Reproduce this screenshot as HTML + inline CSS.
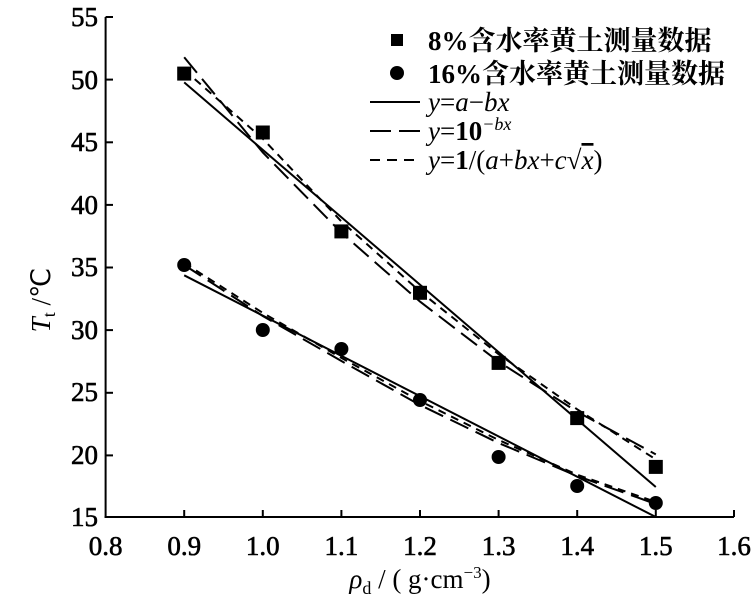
<!DOCTYPE html>
<html><head><meta charset="utf-8"><style>body{margin:0;background:#fff}svg{display:block}</style></head><body>
<svg width="753" height="600" xmlns="http://www.w3.org/2000/svg" font-family="Liberation Serif, serif">
<rect width="753" height="600" fill="#fff"/>
<g stroke="#000" stroke-width="2" fill="none">
<line x1="105.6" y1="17" x2="105.6" y2="518"/>
<line x1="104.6" y1="517" x2="734" y2="517"/>
<line x1="105.6" y1="17" x2="113" y2="17"/><line x1="105.6" y1="79.6" x2="113" y2="79.6"/><line x1="105.6" y1="142.3" x2="113" y2="142.3"/><line x1="105.6" y1="204.9" x2="113" y2="204.9"/><line x1="105.6" y1="267.5" x2="113" y2="267.5"/><line x1="105.6" y1="330.1" x2="113" y2="330.1"/><line x1="105.6" y1="392.8" x2="113" y2="392.8"/><line x1="105.6" y1="455.4" x2="113" y2="455.4"/>
<line x1="184.2" y1="517" x2="184.2" y2="510"/><line x1="262.8" y1="517" x2="262.8" y2="510"/><line x1="341.4" y1="517" x2="341.4" y2="510"/><line x1="420" y1="517" x2="420" y2="510"/><line x1="498.6" y1="517" x2="498.6" y2="510"/><line x1="577.2" y1="517" x2="577.2" y2="510"/><line x1="655.8" y1="517" x2="655.8" y2="510"/><line x1="734" y1="517" x2="734" y2="510"/>
</g>
<g font-size="27" text-anchor="end" stroke="#000" stroke-width="0.6">
<text x="98" y="26">55</text><text x="98" y="89">50</text><text x="98" y="151">45</text><text x="98" y="214">40</text><text x="98" y="276">35</text><text x="98" y="339">30</text><text x="98" y="401">25</text><text x="98" y="464">20</text><text x="98" y="526">15</text>
</g>
<g font-size="27" text-anchor="middle" stroke="#000" stroke-width="0.6">
<text x="105.6" y="555">0.8</text><text x="184.2" y="555">0.9</text><text x="262.8" y="555">1.0</text><text x="341.4" y="555">1.1</text><text x="420" y="555">1.2</text><text x="498.6" y="555">1.3</text><text x="577.2" y="555">1.4</text><text x="655.8" y="555">1.5</text><text x="734" y="555">1.6</text>
</g>
<text x="420" y="588" font-size="27" text-anchor="middle"><tspan font-style="italic">ρ</tspan><tspan font-size="18" dy="6">d</tspan><tspan dy="-6"> / ( g·cm</tspan><tspan font-size="17" dy="-10">−3</tspan><tspan dy="10">)</tspan></text>
<text transform="translate(50,300) rotate(-90)" font-size="27" text-anchor="middle"><tspan font-style="italic">T</tspan><tspan font-size="18" dy="5">t</tspan><tspan dy="-5"> /℃</tspan></text>
<g stroke="#000" stroke-width="2" fill="none">
<line x1="184.2" y1="82.4" x2="655.8" y2="487"/>
<polyline stroke-dasharray="20,8" points="184.2,57.3 262.8,152.5 341.4,232.7 420,301.6 498.6,361.7 577.2,411.8 655.8,454.4"/>
<polyline stroke-dasharray="8,6" points="184.2,69.9 262.8,138.8 341.4,221.4 420,291.5 498.6,354.2 577.2,409.3 655.8,459.4"/>
<line x1="184.2" y1="275.3" x2="655.8" y2="517"/>
<polyline stroke-dasharray="20,8" points="184.2,265 262.8,316 341.4,361 420,405 498.6,443 577.2,476 655.8,504"/>
<polyline stroke-dasharray="8,6" points="184.2,263 262.8,312.9 341.4,357.9 420,401 498.6,440 577.2,474.7 655.8,502"/>
</g>
<g fill="#000">
<rect x="177.2" y="66.6" width="14" height="14"/><rect x="255.8" y="125.5" width="14" height="14"/><rect x="334.4" y="224.4" width="14" height="14"/><rect x="413" y="285.8" width="14" height="14"/><rect x="491.6" y="355.9" width="14" height="14"/><rect x="570.2" y="411.1" width="14" height="14"/><rect x="648.8" y="459.9" width="14" height="14"/>
<circle cx="184.2" cy="265" r="7"/><circle cx="262.8" cy="330" r="7"/><circle cx="341.4" cy="349" r="7"/><circle cx="420" cy="400" r="7"/><circle cx="498.6" cy="457" r="7"/><circle cx="577.2" cy="486" r="7"/><circle cx="655.8" cy="503" r="7"/>
<rect x="391" y="34" width="12" height="12"/>
<circle cx="397" cy="73" r="7"/>
</g>
<g font-size="27" font-weight="bold" font-family="Liberation Serif, 'Noto Serif CJK SC', serif">
<text x="428" y="50">8%含水率黄土测量数据</text>
<text x="428" y="83">16%含水率黄土测量数据</text>
</g>
<g stroke="#000" stroke-width="2">
<line x1="370" y1="102" x2="420" y2="102"/>
<line x1="370" y1="131" x2="391" y2="131" /><line x1="399" y1="131" x2="420" y2="131"/>
<line x1="370" y1="160" x2="380" y2="160"/><line x1="387" y1="160" x2="397" y2="160"/><line x1="404" y1="160" x2="414" y2="160"/>
</g>
<g font-size="27">
<text x="428" y="111"><tspan font-style="italic">y</tspan>=<tspan font-style="italic">a</tspan>−<tspan font-style="italic">bx</tspan></text>
<text x="428" y="140"><tspan font-style="italic">y</tspan>=<tspan font-weight="bold">10</tspan><tspan font-size="18" dy="-10" font-style="italic">−bx</tspan></text>
<text x="428" y="169"><tspan font-style="italic">y</tspan>=<tspan font-weight="bold">1</tspan>/(<tspan font-style="italic">a</tspan>+<tspan font-style="italic">bx</tspan>+<tspan font-style="italic">c</tspan>√<tspan font-style="italic" text-decoration="overline">x</tspan>)</text>
</g>
</svg>
</body></html>
